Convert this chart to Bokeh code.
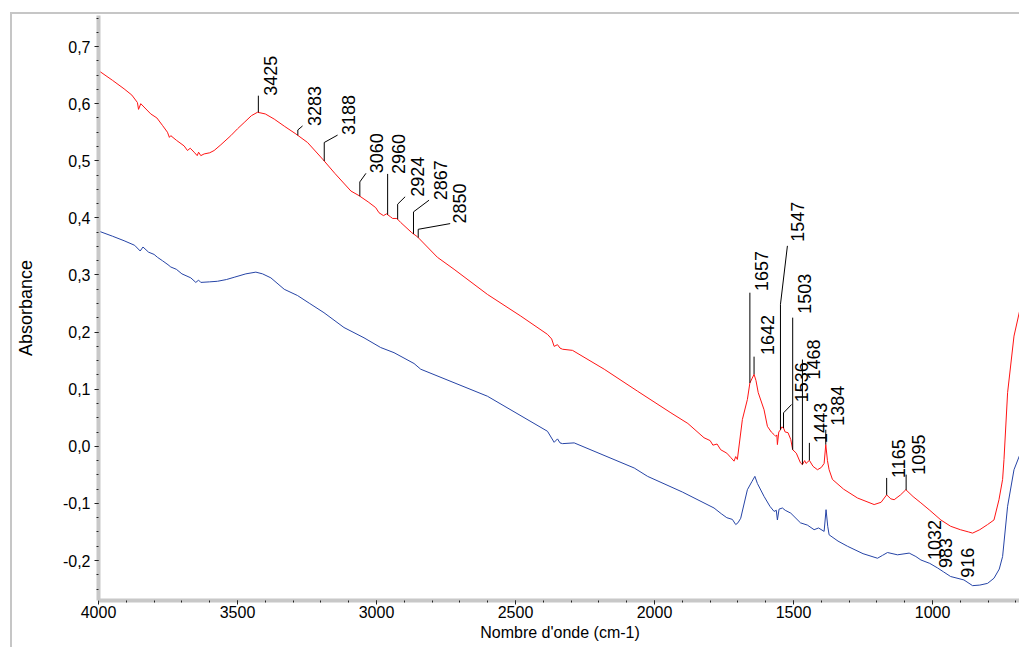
import numpy as np
from bokeh.plotting import figure
from bokeh.models import Range1d, SingleIntervalTicker, CustomJSTickFormatter
from bokeh.core.properties import value
from bokeh.embed import file_html
from bokeh.resources import INLINE

# ---------------- data ----------------
wavenumber_red = [4000, 3950, 3908, 3880, 3860, 3856, 3848, 3812, 3790, 3770, 3752, 3745, 3740,
                  3720, 3692, 3680, 3670, 3656, 3645, 3640, 3632, 3620, 3600, 3584, 3560, 3524,
                  3500, 3476, 3450, 3428, 3400, 3368, 3330, 3290, 3248, 3194, 3150, 3092, 3063,
                  3030, 3003, 2991, 2975, 2964, 2950, 2942, 2927, 2913, 2873, 2853, 2781, 2721,
                  2601, 2481, 2385, 2370, 2361, 2349, 2340, 2331, 2295, 2181, 2061, 1941, 1880,
                  1822, 1800, 1790, 1775, 1762, 1740, 1725, 1714, 1708, 1702, 1684, 1666, 1657,
                  1650, 1642, 1635, 1627, 1606, 1594, 1580, 1570, 1564, 1560, 1558, 1553, 1547,
                  1542, 1536, 1530, 1520, 1510, 1503, 1490, 1475, 1468, 1460, 1455, 1443, 1430,
                  1414, 1400, 1390, 1384, 1378, 1372, 1360, 1320, 1270, 1210, 1185, 1165, 1150,
                  1138, 1115, 1096, 1070, 1042, 1010, 970, 935, 900, 870, 856, 830, 802, 779,
                  761, 748, 743, 730, 707, 679]
absorbance_red = [0.658, 0.641, 0.626, 0.615, 0.602, 0.590, 0.600, 0.582, 0.575, 0.562, 0.550,
                  0.541, 0.544, 0.536, 0.526, 0.518, 0.522, 0.515, 0.509, 0.515, 0.509, 0.512,
                  0.514, 0.518, 0.528, 0.544, 0.556, 0.567, 0.579, 0.585, 0.582, 0.573, 0.560,
                  0.547, 0.532, 0.503, 0.478, 0.447, 0.439, 0.428, 0.418, 0.409, 0.404, 0.407,
                  0.402, 0.399, 0.399, 0.392, 0.374, 0.367, 0.331, 0.310, 0.266, 0.228, 0.196,
                  0.188, 0.175, 0.178, 0.172, 0.170, 0.168, 0.135, 0.0965, 0.0586, 0.040, 0.015,
                  0.010, 0.002, 0.004, -0.006, -0.012, -0.020, -0.026, -0.018, -0.023, 0.047,
                  0.082, 0.111, 0.118, 0.126, 0.115, 0.094, 0.064, 0.035, 0.025, 0.0205, 0.0175,
                  0.020, 0.003, 0.025, 0.029, 0.034, 0.032, 0.025, 0.024, 0.012, -0.006, -0.012,
                  -0.029, -0.032, -0.025, -0.030, -0.0246, -0.035, -0.041, -0.037, -0.030, 0.003,
                  -0.025, -0.041, -0.058, -0.075, -0.0905, -0.102, -0.098, -0.085, -0.092,
                  -0.0935, -0.085, -0.076, -0.088, -0.099, -0.112, -0.129, -0.140, -0.146,
                  -0.150, -0.152, -0.146, -0.137, -0.129, -0.0935, -0.058, -0.023, 0.094, 0.193,
                  0.254]

wavenumber_blue = [4000, 3950, 3908, 3870, 3850, 3840, 3820, 3800, 3788, 3770, 3750, 3740, 3720,
                   3700, 3668, 3650, 3640, 3632, 3600, 3572, 3540, 3512, 3470, 3434, 3410, 3380,
                   3332, 3284, 3240, 3189, 3117, 3045, 2985, 2937, 2865, 2841, 2601, 2385, 2361,
                   2349, 2340, 2331, 2289, 2073, 2025, 1900, 1786, 1760, 1740, 1720, 1708, 1700,
                   1690, 1666, 1650, 1639, 1630, 1606, 1585, 1570, 1562, 1558, 1552, 1540, 1530,
                   1510, 1475, 1450, 1426, 1410, 1390, 1383, 1377, 1372, 1340, 1306, 1250, 1198,
                   1180, 1162, 1126, 1084, 1060, 1042, 1010, 982, 960, 935, 887, 856, 830, 802,
                   779, 760, 748, 730, 707, 679]
absorbance_blue = [0.377, 0.368, 0.360, 0.352, 0.342, 0.349, 0.340, 0.336, 0.331, 0.325, 0.318,
                   0.314, 0.310, 0.302, 0.295, 0.287, 0.291, 0.287, 0.288, 0.289, 0.292, 0.296,
                   0.302, 0.305, 0.302, 0.295, 0.275, 0.264, 0.250, 0.234, 0.208, 0.190, 0.173,
                   0.164, 0.145, 0.135, 0.0877, 0.0263, 0.007, 0.013, 0.006, 0.0047, 0.006,
                   -0.038, -0.0526, -0.080, -0.108, -0.118, -0.125, -0.128, -0.137, -0.134,
                   -0.126, -0.076, -0.062, -0.0526, -0.065, -0.0877, -0.105, -0.114, -0.112,
                   -0.129, -0.110, -0.108, -0.112, -0.117, -0.134, -0.138, -0.146, -0.143,
                   -0.149, -0.111, -0.140, -0.155, -0.166, -0.175, -0.188, -0.196, -0.191,
                   -0.186, -0.190, -0.187, -0.193, -0.199, -0.205, -0.213, -0.220, -0.228,
                   -0.234, -0.244, -0.243, -0.240, -0.231, -0.215, -0.193, -0.105, -0.041,
                   -0.006]

red_peaks = [3425, 3283, 3188, 3060, 2960, 2924, 2867, 2850, 1657, 1642, 1547, 1536, 1503,
             1468, 1443, 1384, 1165, 1095]
blue_peaks = [1032, 983, 916]

# ---------------- annotation layout (leader lines / label anchors) ----------------
red_elbow_y = [0.614, 0.554, 0.532, 0.463, 0.477, 0.424, 0.4105, 0.380, 0.269, 0.157, 0.2486,
               0.0586, 0.2253, 0.152, 0.006, 0.029, -0.0554, -0.0496]
red_end_x = [3425, 3266, 3140, 3038, 2960, 2897, 2811, 2735, 1657, 1642, 1522, 1507, 1503,
             1468, 1443, 1384, 1165, 1095]
red_end_y = [0.614, 0.561, 0.545, 0.478, 0.477, 0.437, 0.431, 0.390, 0.269, 0.157, 0.351,
             0.0732, 0.2253, 0.152, 0.006, 0.029, -0.0554, -0.0496]
red_text_x = [3380, 3224, 3099, 2999, 2922, 2854, 2769, 2701, 1614, 1595, 1485, 1471, 1459,
              1429, 1402, 1342, 1123, 1051]
red_text_y = [0.614, 0.561, 0.545, 0.478, 0.477, 0.437, 0.431, 0.390, 0.272, 0.160, 0.358,
              0.077, 0.232, 0.117, 0.006, 0.036, -0.0554, -0.0496]
blue_text_x = [994, 952, 874]
blue_text_y = [-0.199, -0.213, -0.230]

FONT = "Liberation Sans"
RED = "#ff1414"
BLUE = "#2644a6"

p = figure(width=1009, height=635, output_backend="svg", toolbar_location=None,
           x_range=Range1d(4000, 680), y_range=Range1d(-0.27, 0.7544),
           min_border_left=86, min_border_right=0, min_border_top=1, min_border_bottom=49)
p.styles = {"margin-left": "10px", "margin-top": "12px",
            "border-left": "2px solid #c6c6c6", "border-top": "2px solid #c6c6c6"}
p.outline_line_color = None
p.xgrid.visible = False
p.ygrid.visible = False
p.background_fill_color = "white"
p.border_fill_color = "white"

# spectra
p.line(wavenumber_red, absorbance_red, line_color=RED, line_width=1)
p.line(wavenumber_blue, absorbance_blue, line_color=BLUE, line_width=1)

# leader lines
wr = np.array(wavenumber_red[::-1], dtype=float)
ar = np.array(absorbance_red[::-1], dtype=float)
base_y = np.interp(red_peaks, wr, ar)
xs = [[pk, pk, ex] for pk, ex in zip(red_peaks, red_end_x)]
ys = [[by, ey0, ey] for by, ey0, ey in zip(base_y, red_elbow_y, red_end_y)]
p.multi_line(xs, ys, line_color="black", line_width=1)

p.text(red_text_x, red_text_y, text=[str(v) for v in red_peaks], angle=np.pi / 2,
       text_align="left", text_baseline="middle", text_font=value(FONT),
       text_font_size="18px", text_color="black")
p.text(blue_text_x, blue_text_y, text=[str(v) for v in blue_peaks], angle=np.pi / 2,
       text_align="left", text_baseline="middle", text_font=value(FONT),
       text_font_size="18px", text_color="black")

# axes
for ax in (p.xaxis[0], p.yaxis[0]):
    ax.axis_line_color = "#c8c8c8"
    ax.axis_line_width = 4
    ax.major_tick_line_color = "#222222"
    ax.minor_tick_line_color = "#222222"
    ax.major_tick_in = 0
    ax.major_tick_out = 4
    ax.minor_tick_in = 0
    ax.minor_tick_out = 2
    ax.major_label_text_font = FONT
    ax.major_label_text_font_size = "16px"
    ax.major_label_text_color = "black"
    ax.axis_label_text_font = FONT
    ax.axis_label_text_font_style = "normal"
    ax.axis_label_text_color = "black"

p.xaxis.ticker = SingleIntervalTicker(interval=500, num_minor_ticks=5)
p.yaxis.ticker = SingleIntervalTicker(interval=0.1, num_minor_ticks=4)
p.yaxis.formatter = CustomJSTickFormatter(code="return tick.toFixed(1).replace('.', ',');")
p.xaxis.axis_label = "Nombre d'onde (cm-1)"
p.yaxis.axis_label = "Absorbance"
p.xaxis.axis_label_text_font_size = "16px"
p.yaxis.axis_label_text_font_size = "18px"
p.xaxis.major_label_standoff = 1
p.xaxis.axis_label_standoff = 3
p.yaxis.major_label_standoff = 4
p.yaxis.axis_label_standoff = 24

open("out.html", "w").write(file_html(p, INLINE))
